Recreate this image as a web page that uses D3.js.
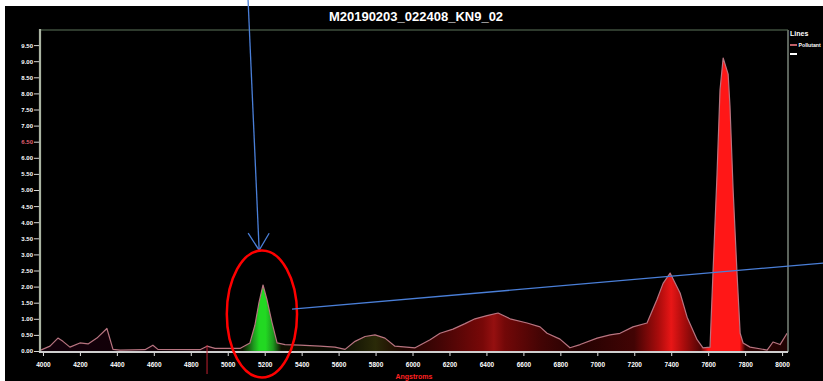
<!DOCTYPE html>
<html>
<head>
<meta charset="utf-8">
<script src="https://cdn.jsdelivr.net/npm/d3@7/dist/d3.min.js"></script>
<style>
  html, body { margin: 0; padding: 0; background: #ffffff; }
  svg { display: block; font-family: "Liberation Sans", Arial, sans-serif; }
</style>
</head>
<body>
<svg id="chart" width="823" height="381"></svg>
<script>
// Spectrum samples: wavelength (Angstroms) and intensity
const wavelengths = [
  3984, 4038, 4081, 4108, 4146, 4200, 4244, 4292, 4346, 4379, 4417, 4552, 4595, 4622,
  4850, 4888, 4931, 5066, 5120, 5147, 5169, 5191, 5212, 5239, 5267, 5310, 5391, 5499,
  5580, 5635, 5689, 5743, 5797, 5851, 5905, 6014, 6095, 6149, 6219, 6284, 6338, 6403,
  6463, 6528, 6620, 6690, 6728, 6798, 6852, 6907, 6999, 7069, 7123, 7193, 7269, 7323,
  7356, 7394, 7448, 7486, 7540, 7572, 7610, 7626, 7648, 7664, 7681, 7708, 7718, 7735,
  7756, 7773, 7789, 7827, 7919, 7951, 7989, 8027
];
const intensity = [
  0.02, 0.15, 0.40, 0.30, 0.12, 0.25, 0.22, 0.40, 0.70, 0.05, 0.03, 0.04, 0.18, 0.05,
  0.04, 0.15, 0.08, 0.08, 0.25, 0.80, 1.50, 2.05, 1.60, 0.90, 0.25, 0.20, 0.18, 0.15,
  0.12, 0.05, 0.30, 0.45, 0.50, 0.40, 0.15, 0.10, 0.35, 0.55, 0.68, 0.85, 1.00, 1.10,
  1.18, 1.00, 0.87, 0.75, 0.55, 0.37, 0.10, 0.20, 0.40, 0.50, 0.55, 0.75, 0.87, 1.60,
  2.10, 2.42, 1.80, 1.05, 0.35, 0.10, 0.12, 2.42, 5.50, 8.10, 9.10, 8.60, 7.60, 5.00,
  2.42, 0.55, 0.25, 0.12, 0.03, 0.28, 0.20, 0.55
];

// Axis ticks
const yTickValues = [0, 0.5, 1, 1.5, 2, 2.5, 3, 3.5, 4, 4.5, 5, 5.5, 6, 6.5, 7, 7.5, 8, 8.5, 9, 9.5];
const xTickValues = [4000, 4200, 4400, 4600, 4800, 5000, 5200, 5400, 5600, 5800, 6000,
                     6200, 6400, 6600, 6800, 7000, 7200, 7400, 7600, 7800, 8000];

// Fill colour along the wavelength axis (roughly the visible colour of each band)
const fillStopWavelengths = [3984, 4900, 5080, 5140, 5170, 5205, 5245, 5290, 5600, 5800, 5950,
  6150, 6380, 6440, 6500, 6700, 6900, 7200, 7330, 7400, 7470, 7560, 7600, 7770, 7800, 8032];
const fillStopColors = ["#12000a", "#120006", "#0c1000", "#1f9a1f", "#22d822", "#22d822",
  "#1f9a1f", "#101000", "#0a0a02", "#2a2a08", "#1e0400", "#440505", "#780808", "#951010",
  "#720808", "#420404", "#240202", "#420404", "#a80c0c", "#e81616", "#a80c0c", "#500505",
  "#ff1717", "#ff1717", "#300303", "#200202"];

const chartTitle = "M20190203_022408_KN9_02";
const xAxisTitle = "Angstroms";
const legendTitle = "Lines";
const legendItems = ["Pollutant", ""];

// Marker on the wavelength axis
const markerWavelength = 4888;

// Callout annotations, in data units
const arrowStart = [5110, 10.9];
const arrowTip = [5170, 3.13];
const calloutCenter = [5185, 1.15];
const calloutRadii = [190, 1.97];
const leaderStart = [5348, 1.3];
const leaderEnd = [8222, 2.73];

const W = 823, H = 381;
const svg = d3.select("#chart");

const x = d3.scaleLinear().domain([3984, 8032]).range([40, 788]);
const y = d3.scaleLinear().domain([0, 10]).range([351, 29]);

// black canvas
svg.append("rect").attr("x", 5).attr("y", 6).attr("width", W - 5).attr("height", H - 6).attr("fill", "#000");

// gradient for the filled area
const defs = svg.append("defs");
const grad = defs.append("linearGradient")
  .attr("id", "specFill")
  .attr("gradientUnits", "userSpaceOnUse")
  .attr("x1", x(3984)).attr("x2", x(8032)).attr("y1", 0).attr("y2", 0);
fillStopWavelengths.forEach((w, i) => {
  grad.append("stop")
    .attr("offset", (w - 3984) / (8032 - 3984))
    .attr("stop-color", fillStopColors[i]);
});
defs.append("clipPath").attr("id", "plotClip")
  .append("rect").attr("x", 40).attr("y", 29).attr("width", 748).attr("height", 323);

const data = wavelengths.map((w, i) => ({ w, v: intensity[i] }));

const area = d3.area().x(d => x(d.w)).y0(y(0)).y1(d => y(d.v)).curve(d3.curveLinear);
const line = d3.line().x(d => x(d.w)).y(d => y(d.v)).curve(d3.curveLinear);

const plot = svg.append("g").attr("clip-path", "url(#plotClip)");
plot.append("path").datum(data).attr("d", area).attr("fill", "url(#specFill)");
plot.append("path").datum(data).attr("d", line)
  .attr("fill", "none").attr("stroke", "#b87480").attr("stroke-width", 1.2)
  .attr("stroke-linejoin", "round");

// plot frame: top and right borders
svg.append("line").attr("x1", 40).attr("x2", 788).attr("y1", 30).attr("y2", 30)
  .attr("stroke", "#3e4e3c").attr("stroke-width", 1.5);
svg.append("line").attr("x1", 788).attr("x2", 788).attr("y1", 30).attr("y2", 352)
  .attr("stroke", "#5c645c").attr("stroke-width", 2);

// y axis
const yAxis = svg.append("g").attr("transform", "translate(40,0)")
  .call(d3.axisLeft(y).tickValues(yTickValues).tickFormat(d3.format(".2f")).tickSize(6).tickPadding(1));
yAxis.select(".domain").remove();
yAxis.selectAll(".tick line").attr("stroke", "#d8d8d8").attr("stroke-width", 1);
yAxis.selectAll(".tick text").attr("font-size", 6)
  .attr("font-weight", "bold").attr("font-family", "Liberation Sans, Arial, sans-serif")
  .attr("fill", d => d === 6.5 ? "#e06070" : "#ffffff");
svg.append("line").attr("x1", 40).attr("x2", 40).attr("y1", 29).attr("y2", 353)
  .attr("stroke", "#aab4a2").attr("stroke-width", 2.2);

// x axis
const xAxis = svg.append("g").attr("transform", "translate(0,352)")
  .call(d3.axisBottom(x).tickValues(xTickValues).tickFormat(d3.format("d")).tickSize(4).tickPadding(6));
xAxis.select(".domain").remove();
xAxis.selectAll(".tick line").attr("stroke", "#e0e0e0").attr("stroke-width", 1);
xAxis.selectAll(".tick text").attr("fill", "#ffffff").attr("font-size", 6.5)
  .attr("font-weight", "bold").attr("font-family", "Liberation Sans, Arial, sans-serif");
svg.append("line").attr("x1", 39).attr("x2", 788).attr("y1", 352).attr("y2", 352)
  .attr("stroke", "#cfcfcf").attr("stroke-width", 2.2);

// wavelength marker
svg.append("line").attr("x1", x(markerWavelength)).attr("x2", x(markerWavelength))
  .attr("y1", y(0.18)).attr("y2", 374).attr("stroke", "#c02030").attr("stroke-width", 1);

// titles
svg.append("text").attr("x", 416).attr("y", 21).attr("text-anchor", "middle")
  .attr("fill", "#ffffff").attr("font-size", 13).attr("font-weight", "bold").text(chartTitle);
svg.append("text").attr("x", 414).attr("y", 378.5).attr("text-anchor", "middle")
  .attr("fill", "#ff2020").attr("font-size", 7).attr("font-weight", "bold").text(xAxisTitle);

// legend
svg.append("text").attr("x", 790).attr("y", 36).attr("fill", "#ffffff")
  .attr("font-size", 7).attr("font-weight", "bold").text(legendTitle);
const legendColors = ["#c06068", "#ffffff"];
legendItems.forEach((name, i) => {
  const ly = 45 + i * 9;
  svg.append("line").attr("x1", 790).attr("x2", 797).attr("y1", ly).attr("y2", ly)
    .attr("stroke", legendColors[i]).attr("stroke-width", 2);
  if (name) {
    svg.append("text").attr("x", 798.5).attr("y", ly + 2).attr("fill", "#ffffff")
      .attr("font-size", 5.2).attr("font-weight", "bold").text(name);
  }
});

// callout: arrow, ellipse and leader line
const blue = "#4a7fd8";
const tipX = x(arrowTip[0]), tipY = y(arrowTip[1]);
svg.append("line").attr("x1", x(arrowStart[0])).attr("y1", y(arrowStart[1]))
  .attr("x2", tipX).attr("y2", tipY).attr("stroke", blue).attr("stroke-width", 1.3);
svg.append("polyline")
  .attr("points", [[tipX - 11, tipY - 17], [tipX, tipY], [tipX + 10, tipY - 17]].map(p => p.join(",")).join(" "))
  .attr("fill", "none").attr("stroke", blue).attr("stroke-width", 1.3);
svg.append("ellipse")
  .attr("cx", x(calloutCenter[0])).attr("cy", y(calloutCenter[1]))
  .attr("rx", x(calloutCenter[0] + calloutRadii[0]) - x(calloutCenter[0]))
  .attr("ry", y(0) - y(calloutRadii[1]))
  .attr("fill", "none").attr("stroke", "#ff0000").attr("stroke-width", 2.5);
svg.append("line").attr("x1", x(leaderStart[0])).attr("y1", y(leaderStart[1]))
  .attr("x2", x(leaderEnd[0])).attr("y2", y(leaderEnd[1]))
  .attr("stroke", blue).attr("stroke-width", 1.3);
</script>
</body>
</html>
